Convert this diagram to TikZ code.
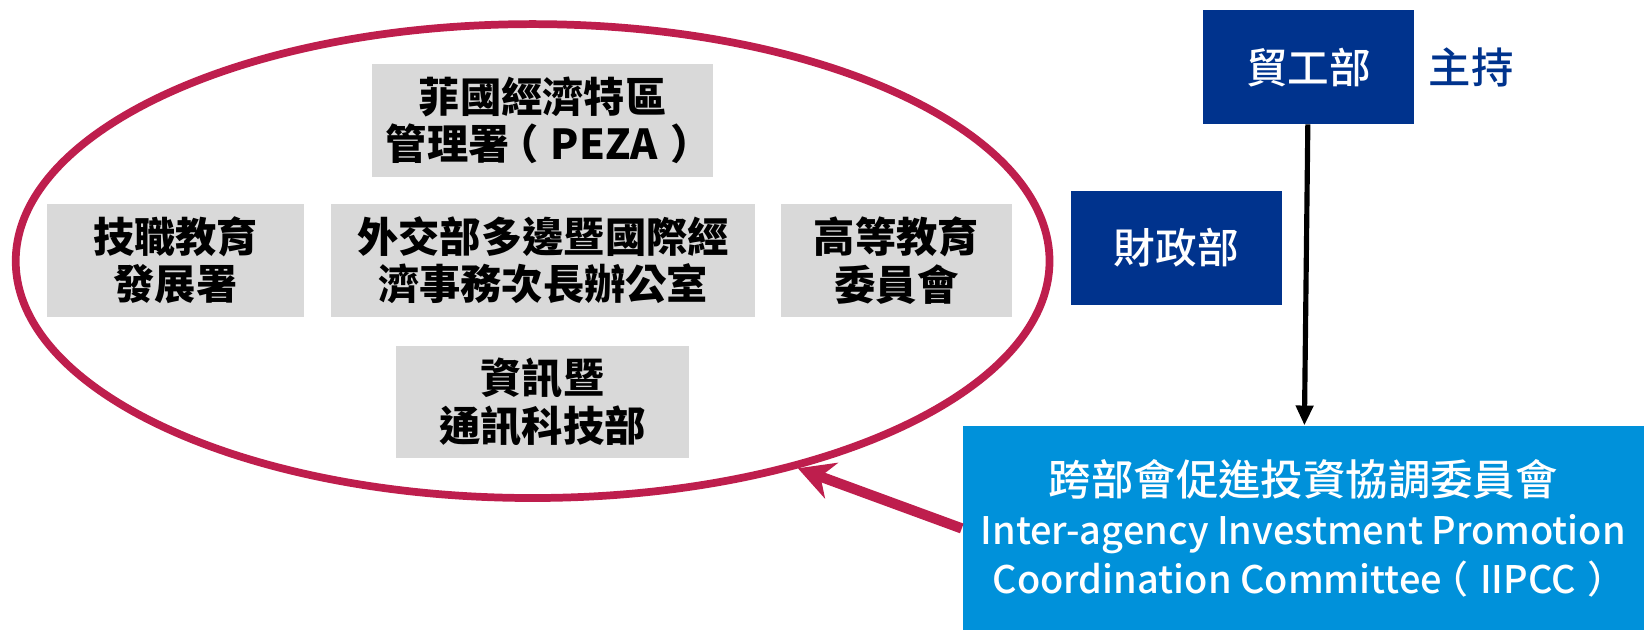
\documentclass[tikz,border=0pt]{standalone}
\usepackage{fontspec}
\setmainfont{Noto Sans CJK TC}
\newfontfamily\medfont{Noto Sans CJK TC Medium}
\usetikzlibrary{arrows.meta,shapes.geometric,positioning}
\definecolor{navy}{RGB}{0,51,141}
\definecolor{skyblue}{RGB}{0,145,218}
\definecolor{crimson}{RGB}{190,30,77}
\definecolor{boxgray}{RGB}{217,217,217}
\newcommand\lparen{\kern-.3em（\kern.3em}
\newcommand\rparen{\kern.3em）\kern-.3em}
\tikzset{
  agency/.style={fill=boxgray, align=center, inner sep=0pt,
    minimum height=10.7mm, font=\bfseries\fontsize{11.2}{12.8}\selectfont},
  ministry/.style={fill=navy, text=white, align=center, inner sep=0pt,
    minimum width=20.1mm, minimum height=10.8mm, font=\medfont\fontsize{11.3}{12.8}\selectfont},
}
\begin{document}
\begin{tikzpicture}[x=0.1mm,y=-0.1mm]
  \useasboundingbox (0,0) rectangle (1568,600);
  \node[draw=crimson, line width=2.1pt, ellipse, minimum width=98.6mm,
    minimum height=45.2mm, inner sep=0pt] (grp) at (508,249) {};
  \node[agency, minimum width=32.5mm] (peza) at (517.5,115) {菲國經濟特區\\管理署\lparen PEZA\rparen};
  \node[agency, minimum width=24.5mm] (tesda) at (167.5,248.5) {技職教育\\發展署};
  \node[agency, minimum width=40.4mm] (dfa) at (518,248.5) {外交部多邊暨國際經\\濟事務次長辦公室};
  \node[agency, minimum width=22mm] (ched) at (855,248.5) {高等教育\\委員會};
  \node[agency, minimum width=27.9mm] (dict) at (517.5,383.5) {資訊暨\\通訊科技部};
  \node[ministry] (dti) at (1248,64) {貿工部};
  \node[right=1.3mm of dti, text=navy, inner sep=0pt,
    font=\medfont\fontsize{11.5}{12.8}\selectfont] (host) {主持};
  \node[ministry] (dof) at (1122,236.5) {財政部};
  \node[fill=skyblue, text=white, align=center, inner sep=0pt,
    minimum width=65mm, minimum height=19.5mm,
    font=\medfont\fontsize{10.3}{13.4}\selectfont] (iipcc) at (1243,504)
    {{\fontsize{11.5}{13.4}\selectfont 跨部會促進投資協調委員會}\\Inter-agency Investment Promotion\\Coordination Committee\lparen IIPCC\rparen};
  % connectors
  \draw[line width=1.4pt, -{Triangle[length=1.9mm,width=1.6mm]}] (dti) -- (iipcc);
  \draw[crimson, line width=2.8pt, -{Stealth[length=3.4mm,width=3.6mm]}] (iipcc.west) -- (grp.-38);
\end{tikzpicture}
\end{document}
